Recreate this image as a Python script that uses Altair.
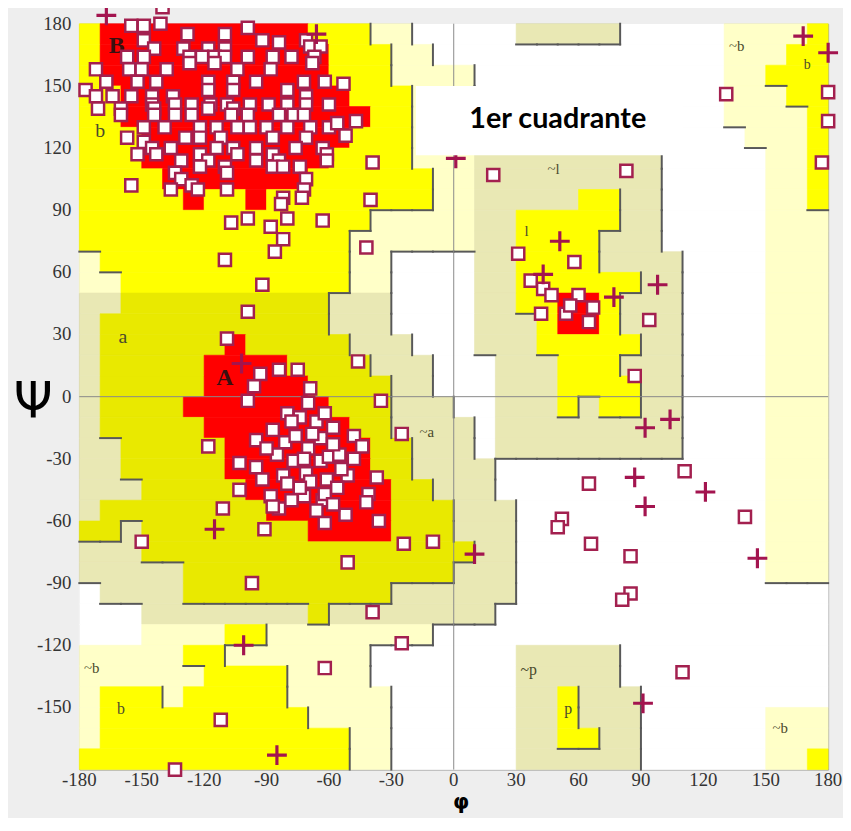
import altair as alt
import pandas as pd

# ---------------- data ----------------
# Region map on a 10-degree grid, one run-length row per psi band (top = 170..180).
# R = core, Y = allowed (beta side), O = allowed (alpha side), L = generous (beta side),
# K = generous (alpha / left-handed side), W = disallowed
REGION_ROWS = [
    "Y1 R10 Y3 L2 W5 K5 W5 L4 Y1",
    "Y1 R11 Y3 L2 W14 L3 Y2",
    "Y1 R11 Y3 L4 W12 L2 Y3",
    "Y2 R11 Y3 L3 W12 L3 Y2",
    "Y2 R12 Y2 L3 W12 L4 Y1",
    "Y3 R10 Y3 L3 W13 L3 Y1",
    "Y3 R9 Y4 L3 K9 W5 L2 Y1",
    "Y4 R7 Y6 L2 K9 W5 L2 Y1",
    "Y5 R1 Y2 R1 Y8 L2 K5 Y2 K2 W5 L2 Y1",
    "Y14 L5 K2 Y5 K2 W5 L3",
    "Y13 L6 K2 Y4 K3 W5 L3",
    "L1 Y12 L2 W4 K2 Y4 K4 W4 L3",
    "L2 Y11 L2 W4 K2 Y6 K2 W4 L3",
    "K2 O10 K3 W4 K2 Y2 R2 Y1 K3 W4 L3",
    "K1 O11 K3 W4 K3 Y1 R2 Y1 K3 W4 L3",
    "K1 O6 R1 O5 K3 W3 K3 Y5 K2 W4 L3",
    "K1 O5 R4 O4 K3 W3 K3 Y3 K3 W4 L3",
    "K1 O5 R5 O4 K2 W3 K3 Y4 K2 W4 L3",
    "K1 O4 R7 O3 K3 W2 K3 Y1 K1 Y2 K2 W4 L3",
    "K1 O5 R7 O2 K4 W1 K9 W4 L3",
    "K2 O5 R7 O2 K3 W1 K9 W4 L3",
    "K2 O5 R7 O2 K4 W13 L3",
    "K3 O5 R7 O2 K3 W13 L3",
    "K1 O8 R6 O3 K3 W12 L3",
    "O2 K1 O8 R4 O3 K3 W12 L3",
    "K3 O16 K2 W12 L3",
    "K5 O13 K3 W12 L3",
    "W1 K4 O10 K6 W15",
    "W3 K8 O1 K8 W16",
    "W3 L4 Y2 L8 W19",
    "L5 Y2 L7 W7 K5 W10",
    "L6 Y4 L4 W7 K5 W10",
    "L1 Y3 L1 Y5 L5 W6 K2 Y1 K3 W9",
    "L1 Y10 L4 W6 K2 Y1 K3 W6 L3",
    "L1 Y12 L2 W6 K2 Y2 K2 W6 L3",
    "Y13 L2 W6 K6 W6 L2 Y1",
]
REGION_CLASSES = ["R", "Y", "O", "L", "K", "W"]
REGION_COLORS = ["#ff0000", "#ffff00", "#e9e900", "#ffffc8", "#e9e8b4", "#ffffff"]
REGION_RANK = {"W": 0, "L": 1, "K": 1, "Y": 2, "O": 2, "R": 2}

BETA_SQUARES = [
    (-155, 179), (-149, 179), (-141, 180), (-99, 178), (-140, 188),
    (-128, 175), (-110, 175),
    (-149, 172), (-92, 172), (-84, 171), (-71, 172),
    (-144, 168), (-130, 168), (-118, 168), (-110, 168), (-69, 169), (-64, 169),
    (-157, 164), (-149, 164), (-127, 164), (-121, 164), (-115, 164), (-110, 164), (-99, 164), (-87, 164), (-78, 164), (-67, 164),
    (-127, 161), (-115, 161), (-68, 161),
    (-172, 158), (-156, 158), (-150, 158), (-138, 158), (-104, 158), (-88, 158),
    (-167, 152), (-152, 152), (-143, 152), (-118, 152), (-106, 152), (-95, 152), (-72, 152), (-62, 152), (-53, 151),
    (-177, 148), (-118, 148), (-106, 148), (-80, 148),
    (-172, 145), (-164, 145), (-155, 145), (-145, 145), (-135, 145), (-71, 145),
    (-145, 141), (-134, 141), (-126, 141), (-117, 141), (-109, 141), (-98, 141), (-89, 141), (-80, 141), (-71, 141), (-60, 141),
    (-171, 139), (-160, 139), (-144, 139), (-118, 139), (-106, 139),
    (-160, 136), (-144, 136), (-134, 136), (-126, 136), (-107, 136), (-99, 136), (-84, 136), (-77, 136), (-72, 136),
    (-149, 130), (-139, 130), (-122, 130), (-114, 130), (-104, 130), (-98, 130), (-90, 130), (-80, 130), (-69, 130), (-60, 130), (-56, 132), (-47, 133),
    (-157, 125), (-129, 125), (-122, 125), (-112, 125), (-87, 125), (-71, 125), (-52, 126),
    (-149, 123),
    (-145, 120), (-136, 120), (-114, 120), (-106, 120), (-95, 120), (-76, 120), (-63, 120),
    (-152, 117), (-143, 117), (-122, 117), (-104, 117), (-87, 117), (-61, 117),
    (-131, 114), (-118, 114), (-95, 114), (-84, 114), (-61, 114),
    (-122, 111), (-110, 111), (-87, 111), (-82, 111), (-74, 111),
    (-134, 108), (-109, 108),
    (-131, 105), (-71, 105),
    (-155, 102), (-126, 102),
    (-136, 100), (-123, 100), (-109, 100), (-72, 100),
    (-82, 96), (-73, 96), (-40, 95), (-39, 113),
    (-83, 93), (-80, 86), (-107, 84), (-99, 86), (-88, 82), (-63, 85), (-82, 76), (-86, 70), (-110, 66), (-42, 72),
    (-92, 54), (-99, 41), (-109, 28),
]
ALPHA_SQUARES = [
    (-93, 11), (-84, 13), (-75, 13), (-69, 4), (-96, 5), (-99, -2), (-80, -8), (-74, -10),
    (-95, -21), (-81, -22), (-76, -19), (-87, -16), (-64, -20), (-118, -24), (-103, -32),
    (-95, -34), (-85, -28), (-77, -31), (-64, -31), (-71, -37), (-61, -40), (-103, -45),
    (-88, -48), (-111, -54), (-84, -54), (-72, -48), (-63, -50),
    (-46, 17), (-35, -2), (-25, -18), (-48, -19), (-51, -38), (-37, -39), (-60, -29), (-55, -28),
    (-41, -47), (-52, -57), (-36, -60), (-69, -41), (-62, -47), (-42, -51), (-87, -53), (-62, -61), (-91, -64),
    (-70, -3), (-78, -12), (-66, -12), (-58, -15), (-90, -25), (-70, -25), (-58, -23), (-82, -38),
    (-74, -44), (-56, -44), (-66, -55), (-80, -42), (-92, -40), (-68, -18), (-62, -8), (-72, -30),
    (-54, -35), (-48, -30), (-44, -24), (-78, -50), (-58, -52),
]
OTHER_SQUARES = [
    (-150, -70), (-24, -71), (-10, -70), (-51, -80), (-97, -90), (-39, -104), (-25, -119),
    (-62, -131), (-112, -156), (-134, -180),
    (19, 107), (83, 109), (131, 146), (180, 147), (180, 133), (177, 113),
    (31, 69), (58, 65), (37, 56), (43, 52), (47, 49), (42, 40), (54, 40), (60, 49), (67, 43), (65, 36),
    (56, 44), (94, 37), (87, 10),
    (65, -42), (52, -59), (50, -63), (66, -71), (85, -77), (85, -95), (81, -98), (111, -36),
    (140, -58), (110, -133),
]
CROSSES = [
    (-167, 184), (-66, 175), (-102, 16), (-115, -64), (-101, -120), (-85, -173), (1, 115),
    (51, 75), (43, 59), (77, 48), (98, 54), (168, 174), (180, 166), (92, -15), (104, -11),
    (87, -39), (121, -46), (92, -53), (146, -78), (91, -148), (10, -76),
]

BIG_LABELS = ["B", "A"]
BIG_LABEL_PHI = [-162, -110]
BIG_LABEL_PSI = [169, 9]
SMALL_LABELS = ["b", "a", "~a", "~l", "l", "~b", "b", "~b", "b", "~p", "p", "~b"]
SMALL_LABEL_PHI = [-170, -159, -13, 48, 35, 136, 170, -174, -160, 36, 55, 157]
SMALL_LABEL_PSI = [128, 29, -17, 110, 80, 169, 160, -131, -151, -132, -151, -160]
SMALL_LABEL_SIZE = [20, 20, 15, 15, 15, 15, 14, 15, 16, 16, 16, 15]

NOTE_TEXT = "1er cuadrante"
NOTE_BOX = {"phi0": -18.2, "phi1": 110, "psi0": 150, "psi1": 116.5}
NOTE_POS = {"phi": 50, "psi": 129.5}

TICKS_X = list(range(-180, 181, 30))
TICKS_Y = list(range(-150, 181, 30))

SERIF = "Times New Roman, Liberation Serif, serif"

# ---------------- build tables ----------------
runs, grid = [], []
for r, row in enumerate(REGION_ROWS):
    top = 180 - 10 * r
    c, cells = 0, []
    for tok in row.split():
        k, n = tok[0], int(tok[1:])
        runs.append(dict(x=-180 + 10 * c, x2=-180 + 10 * (c + n), y=top, y2=top - 10, cls=k))
        cells += [k] * n
        c += n
    grid.append(cells)
runs_df = pd.DataFrame(runs)

segs = []
for r in range(36):
    for c in range(35):
        if REGION_RANK[grid[r][c]] > REGION_RANK[grid[r][c + 1]]:
            xv = -170 + 10 * c
            segs.append(dict(x=xv, x2=xv, y=180 - 10 * r, y2=170 - 10 * r))
for r in range(35):
    for c in range(36):
        if REGION_RANK[grid[r][c]] > REGION_RANK[grid[r + 1][c]]:
            yv = 170 - 10 * r
            segs.append(dict(x=-180 + 10 * c, x2=-170 + 10 * c, y=yv, y2=yv))
segs_df = pd.DataFrame(segs)

zero_df = pd.DataFrame({"x": [0, -180], "x2": [0, 180], "y": [-180, 0], "y2": [180, 0]})
sq_df = pd.DataFrame(BETA_SQUARES + ALPHA_SQUARES + OTHER_SQUARES, columns=["x", "y"])
cr_df = pd.DataFrame(CROSSES, columns=["x", "y"])
big_df = pd.DataFrame({"x": BIG_LABEL_PHI, "y": BIG_LABEL_PSI, "t": BIG_LABELS})
small_df = pd.DataFrame({"x": SMALL_LABEL_PHI, "y": SMALL_LABEL_PSI, "t": SMALL_LABELS, "s": SMALL_LABEL_SIZE})
box_df = pd.DataFrame([{"x": NOTE_BOX["phi0"], "x2": NOTE_BOX["phi1"], "y": NOTE_BOX["psi0"], "y2": NOTE_BOX["psi1"]}])
note_df = pd.DataFrame([{"x": NOTE_POS["phi"], "y": NOTE_POS["psi"], "t": NOTE_TEXT}])
xtick_df = pd.DataFrame({"x": TICKS_X, "t": [str(v) for v in TICKS_X]})
ytick_df = pd.DataFrame({"y": TICKS_Y, "t": [str(v) for v in TICKS_Y]})

# ---------------- scales & axes ----------------
xs = alt.Scale(domain=[-180, 180], nice=False, zero=False)
ys = alt.Scale(domain=[-180, 180], nice=False, zero=False)
xaxis = alt.Axis(values=TICKS_X, title="φ", grid=False, ticks=False, tickSize=0, domain=False,
                 labels=False,
                 titleFont="DejaVu Sans", titleFontSize=21, titleFontWeight="bold", titleColor="#000000",
                 titleX=385, titleY=39, titleAlign="center", titleBaseline="alphabetic")
yaxis = alt.Axis(values=TICKS_Y, title="Ψ", grid=False, ticks=False, tickSize=0, domain=False,
                 labels=False,
                 titleFont="DejaVu Sans", titleFontSize=50, titleFontWeight="normal", titleColor="#000000",
                 titleAngle=0, titleX=-47, titleY=397, titleAlign="center", titleBaseline="alphabetic")


def X(f="x"):
    return alt.X(f + ":Q", scale=xs, axis=xaxis)


def Y(f="y"):
    return alt.Y(f + ":Q", scale=ys, axis=yaxis)


cells = alt.Chart(runs_df).mark_rect(strokeWidth=0.6).encode(
    x=X(), x2="x2", y=Y(), y2="y2",
    color=alt.Color("cls:N", scale=alt.Scale(domain=REGION_CLASSES, range=REGION_COLORS), legend=None),
    stroke=alt.Stroke("cls:N", scale=alt.Scale(domain=REGION_CLASSES, range=REGION_COLORS), legend=None),
)
bounds = alt.Chart(segs_df).mark_rule(color="#585858", strokeWidth=2, strokeCap="square").encode(
    x=X(), x2="x2", y=Y(), y2="y2")
zeros = alt.Chart(zero_df).mark_rule(color="#8a8a8a", strokeWidth=1).encode(
    x=X(), x2="x2", y=Y(), y2="y2")
small_txt = alt.Chart(small_df).mark_text(font=SERIF, color="#4a4a2c",
                                          align="center", baseline="middle").encode(
    x=X(), y=Y(), text="t:N", size=alt.Size("s:Q", scale=None, legend=None))
big_txt = alt.Chart(big_df).mark_text(font=SERIF, fontSize=24, fontWeight="bold",
                                      color="#3a1010", align="center", baseline="middle").encode(
    x=X(), y=Y(), text="t:N")
squares = alt.Chart(sq_df).mark_point(shape="square", fill="white", stroke="#a3204f", strokeWidth=2.5,
                                      size=150, opacity=1, fillOpacity=1, strokeOpacity=1).encode(x=X(), y=Y())
crosses = alt.Chart(cr_df).mark_point(shape="M-1,0H1M0,-1V1", filled=False, color="#a3144f",
                                      strokeWidth=3.2, size=400, opacity=1).encode(x=X(), y=Y())
box = alt.Chart(box_df).mark_rect(color="white", opacity=1).encode(x=X(), x2="x2", y=Y(), y2="y2")
note = alt.Chart(note_df).mark_text(font="Lato", fontSize=29, fontWeight="bold", color="#000000",
                                    align="center", baseline="alphabetic").encode(x=X(), y=Y(), text="t:N")
# tick labels drawn as text at the scale positions, just outside the plot area
xlab = alt.Chart(xtick_df).mark_text(font=SERIF, fontSize=19, color="#333333", align="center",
                                     baseline="middle").encode(x=X(), y=alt.value(764), text="t:N")
ylab = alt.Chart(ytick_df).mark_text(font=SERIF, fontSize=19, color="#333333", align="right",
                                     baseline="middle").encode(y=Y(), x=alt.value(-8), text="t:N")

chart = alt.layer(cells, bounds, zeros, small_txt, big_txt, squares, crosses, box, note, xlab, ylab).properties(
    width=756, height=753,
    padding={"left": 72, "top": 12, "right": 15, "bottom": 45},
    autosize=alt.AutoSizeParams(type="none"),
).configure(background="#eeeeee").configure_view(
    stroke="#9a9a9a", strokeWidth=1
)

chart.save("out.html", embed_options={"renderer": "svg", "actions": False})
